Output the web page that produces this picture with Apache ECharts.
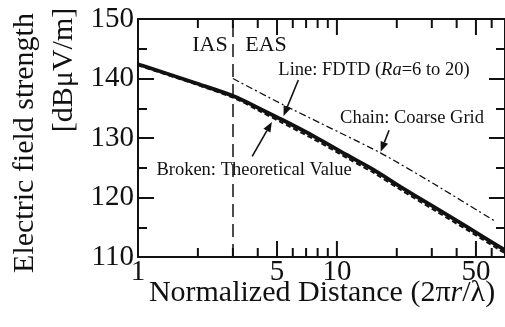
<!DOCTYPE html>
<html><head><meta charset="utf-8">
<script src="https://cdn.jsdelivr.net/npm/echarts@6/dist/echarts.min.js"></script>
<style>html,body{margin:0;padding:0;background:#fff}#c{width:505px;height:327px}</style>
</head><body><div id="c"></div>
<script>
// ---- data ----
const fdtdX = [1, 1.06, 1.96, 3.1, 4.05, 5.28, 7.75, 11.3, 15.4, 20.9, 30.6, 44.9, 65.7, 70];
const fdtdY = [142.4, 142.15, 139.2, 136.9, 135.0, 133.1, 130.2, 127.1, 124.6, 121.8, 118.45, 115.1, 111.7, 111.15];
const theoX = [1, 1.96, 3.1, 4.05, 5.28, 7.75, 11.3, 15.4, 20.9, 30.6, 44.9, 65.7, 70];
const theoY = [142.2, 139.0, 136.6, 134.6, 132.6, 129.7, 126.6, 124.1, 121.3, 117.95, 114.6, 111.2, 110.65];
const coarseX = [3, 5.39, 16.55, 30.7, 63.2];
const coarseY = [140.0, 135.55, 127.5, 122.3, 115.9];
const boundaryX = 3;
const xMajorTicks = [1, 5, 10, 50];
const xMinorTicks = [2, 3, 4, 6, 7, 8, 9, 20, 30, 40, 60];
const xTickLabels = [1, 5, 10, 50];
const yMin = 110, yMax = 150, yStep = 10;
const xMin = 1, xMax = 70;
// annotation arrows (data coordinates): tail -> tip
const arrowTailX = [6.4, 18.3, 3.75];
const arrowTailY = [139.75, 131.3, 126.9];
const arrowTipX = [5.39, 16.6, 4.71];
const arrowTipY = [133.7, 127.7, 132.7];

const INK = '#111';
const FONT = '"Liberation Serif","Times New Roman",serif';
const zip = (a, b) => a.map((v, i) => [v, b[i]]);

const chart = echarts.init(document.getElementById('c'));

function tickItem(params, api) {
  const v = api.value(0), major = api.value(1);
  const len = major ? 16 : 9;
  const b = api.coord([v, yMin]), t = api.coord([v, yMax]);
  return {type: 'group', children: [
    {type: 'line', shape: {x1: b[0], y1: b[1], x2: b[0], y2: b[1] - len}, style: {stroke: INK, lineWidth: 2}},
    {type: 'line', shape: {x1: t[0], y1: t[1], x2: t[0], y2: t[1] + len}, style: {stroke: INK, lineWidth: 2}}
  ]};
}
function labelItem(params, api) {
  const v = api.value(0);
  const b = api.coord([v, yMin]);
  return {type: 'text', x: b[0], y: b[1] + 1,
    style: {text: String(v), font: '29px ' + FONT, fill: INK, align: 'center', verticalAlign: 'top', textAlign: 'center', textVerticalAlign: 'top'}};
}
function arrowItem(params, api) {
  const p1 = api.coord([api.value(0), api.value(1)]);
  const p2 = api.coord([api.value(2), api.value(3)]);
  const dx = p2[0] - p1[0], dy = p2[1] - p1[1];
  const L = Math.hypot(dx, dy), ux = dx / L, uy = dy / L;
  const hl = 10, hw = 4;
  const bx = p2[0] - ux * hl, by = p2[1] - uy * hl;
  return {type: 'group', children: [
    {type: 'line', shape: {x1: p1[0], y1: p1[1], x2: bx, y2: by}, style: {stroke: INK, lineWidth: 1.6}},
    {type: 'polygon', shape: {points: [[p2[0], p2[1]], [bx - uy * hw, by + ux * hw], [bx + uy * hw, by - ux * hw]]}, style: {fill: INK}}
  ]};
}

const txt = (extra) => Object.assign({fill: INK}, extra);
const C = {align: 'center', verticalAlign: 'middle', textAlign: 'center', textVerticalAlign: 'middle'};

chart.setOption({
  backgroundColor: '#fff',
  animation: false,
  grid: {left: 138, top: 19, width: 371, height: 238, containLabel: false},
  xAxis: [
    {type: 'log', logBase: 10, min: xMin, max: xMax, position: 'bottom',
      axisLine: {show: true, lineStyle: {color: INK, width: 2}}, axisTick: {show: false}, axisLabel: {show: false}, splitLine: {show: false}},
    {type: 'log', logBase: 10, min: xMin, max: xMax, position: 'top',
      axisLine: {show: true, lineStyle: {color: INK, width: 2}}, axisTick: {show: false}, axisLabel: {show: false}, splitLine: {show: false}}
  ],
  yAxis: [
    {type: 'value', min: yMin, max: yMax, interval: yStep, position: 'left',
      axisLine: {show: true, lineStyle: {color: INK, width: 2}},
      axisTick: {show: true, inside: true, length: 16, lineStyle: {color: INK, width: 2}},
      minorTick: {show: true, splitNumber: 2, length: 9, lineStyle: {color: INK, width: 2}},
      axisLabel: {show: true, margin: 4, fontFamily: FONT, fontSize: 29, color: INK},
      splitLine: {show: false}},
    {type: 'value', min: yMin, max: yMax, interval: yStep, position: 'right',
      axisLine: {show: true, lineStyle: {color: INK, width: 2}},
      axisTick: {show: true, inside: true, length: 16, lineStyle: {color: INK, width: 2}},
      minorTick: {show: true, splitNumber: 2, length: 9, lineStyle: {color: INK, width: 2}},
      axisLabel: {show: false}, splitLine: {show: false}}
  ],
  series: [
    {type: 'line', name: 'Theoretical', data: zip(theoX, theoY), showSymbol: false, symbol: 'none', smooth: 0.3,
      lineStyle: {color: INK, width: 2, type: [5, 3]}, z: 2,
      markLine: {silent: true, symbol: 'none', label: {show: false},
        lineStyle: {color: INK, width: 1.5, type: [13, 7]}, data: [{xAxis: boundaryX}]}},
    {type: 'line', name: 'FDTD', data: zip(fdtdX, fdtdY), showSymbol: false, symbol: 'none', smooth: 0.3,
      lineStyle: {color: INK, width: 3.8}, z: 3},
    {type: 'line', name: 'Coarse', data: zip(coarseX, coarseY), showSymbol: false, symbol: 'none', smooth: 0.2,
      lineStyle: {color: INK, width: 1.3, type: [7, 3, 2, 3]}, z: 3},
    {type: 'custom', name: 'xticks', data: xMajorTicks.map(v => [v, 1]).concat(xMinorTicks.map(v => [v, 0])),
      encode: {x: 0}, renderItem: tickItem, clip: false, silent: true, z: 5},
    {type: 'custom', name: 'xlabels', data: xTickLabels.map(v => [v, 0]),
      encode: {x: 0}, renderItem: labelItem, clip: false, silent: true, z: 5},
    {type: 'custom', name: 'arrows', data: arrowTailX.map((v, i) => [v, arrowTailY[i], arrowTipX[i], arrowTipY[i]]),
      encode: {x: 0, y: 1}, renderItem: arrowItem, clip: false, silent: true, z: 6}
  ],
  graphic: [
    {type: 'text', x: 322, y: 293, style: txt(Object.assign({text: '{n|Normalized Distance (2π}{i|r}{n|/λ)}',
      rich: {n: {font: '30px ' + FONT, fill: INK}, i: {font: 'italic 30px ' + FONT, fill: INK}}}, C))},
    {type: 'text', x: 25, y: 143, rotation: Math.PI / 2, style: txt(Object.assign({text: 'Electric field strength', font: '30px ' + FONT}, C))},
    {type: 'text', x: 64, y: 70, rotation: Math.PI / 2, style: txt(Object.assign({text: '[dBμV/m]', font: '30px ' + FONT}, C))},
    {type: 'text', x: 210, y: 45, style: txt(Object.assign({text: 'IAS', font: '22px ' + FONT}, C))},
    {type: 'text', x: 266, y: 45, style: txt(Object.assign({text: 'EAS', font: '22px ' + FONT}, C))},
    {type: 'text', x: 374, y: 70, style: txt(Object.assign({text: '{a|Line: FDTD (}{b|Ra}{a|=6 to 20)}',
      rich: {a: {font: '18.5px ' + FONT, fill: INK}, b: {font: 'italic 18.5px ' + FONT, fill: INK}}}, C))},
    {type: 'text', x: 412, y: 118, style: txt(Object.assign({text: 'Chain: Coarse Grid', font: '18.5px ' + FONT}, C))},
    {type: 'text', x: 254, y: 170, style: txt(Object.assign({text: 'Broken: Theoretical Value', font: '18.5px ' + FONT}, C))}
  ]
});
</script></body></html>
